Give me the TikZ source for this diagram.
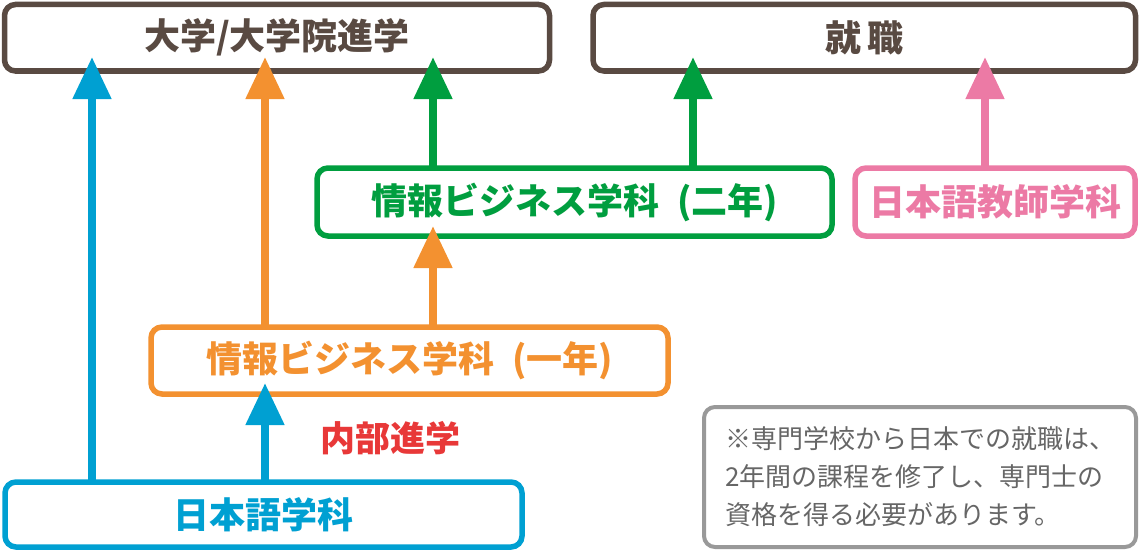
\documentclass[tikz,border=0pt]{standalone}
\usepackage{fontspec}
\setmainfont{Noto Sans CJK JP}
\usetikzlibrary{arrows.meta}
\definecolor{cbrown}{HTML}{594A42}
\definecolor{cblue}{HTML}{00A0D2}
\definecolor{corange}{HTML}{F39130}
\definecolor{cgreen}{HTML}{009E3F}
\definecolor{cpink}{HTML}{EC7AA5}
\definecolor{cred}{HTML}{E83838}
\definecolor{cgray}{HTML}{999999}
\definecolor{cnote}{HTML}{666666}
\tikzset{
  box/.style={draw=#1, text=#1, line width=5.5pt, rounded corners=11pt, fill=white,
    outer sep=0pt, inner sep=0pt, font=\fontsize{36}{40}\selectfont\bfseries},
  uparrow/.style={draw=#1, line width=8pt, -{Triangle[width=37pt,length=42pt]}, #1}
}
\begin{document}
\begin{tikzpicture}[x=1pt,y=-1pt]
\useasboundingbox (0,0) rectangle (1140,551);
\node[box=cbrown, minimum width=545pt, minimum height=66.5pt] (uni) at (277,37.75) {大学/大学院進学};
\node[box=cbrown, minimum width=542.5pt, minimum height=66.5pt] (job) at (864.25,37.75) {就\,職};
\node[box=cgreen, minimum width=515pt, minimum height=68pt] (ib2) at (574.5,202) {情報ビジネス学科\enspace(二年)};
\node[box=cpink, minimum width=280pt, minimum height=68pt] (jtt) at (995,202) {日本語教師学科};
\node[box=corange, minimum width=517pt, minimum height=67pt] (ib1) at (409.5,360.5) {情報ビジネス学科\enspace(一年)};
\node[box=cblue, minimum width=517pt, minimum height=65pt] (jpn) at (263.5,514.5) {日本語学科};
\node[draw=cgray, line width=4pt, rounded corners=11pt, outer sep=0pt, minimum width=432pt, minimum height=140pt,
  text=cnote, align=left, font=\fontsize{26}{38}\selectfont] (note) at (920,477)
  {※専門学校から日本での就職は、\\2年間の課程を修了し、専門士の\\資格を得る必要があります。};
\node[text=cred, font=\fontsize{35}{40}\selectfont\bfseries] (internal) at (390,438) {内部進学};
% arrows
\draw[uparrow=cblue, shorten >=-14pt] (jpn.north -| 92,0) -- (uni.south -| 92,0);
\draw[uparrow=corange, shorten >=-14pt] (ib1.north -| 265,0) -- (uni.south -| 265,0);
\draw[uparrow=cgreen, shorten >=-14pt] (ib2.north -| 433,0) -- (uni.south -| 433,0);
\draw[uparrow=cgreen, shorten >=-14pt] (ib2.north -| 693,0) -- (job.south -| 693,0);
\draw[uparrow=cpink, shorten >=-14pt] (jtt.north -| 985,0) -- (job.south -| 985,0);
\draw[uparrow=corange, shorten >=-10pt] (ib1.north -| 433,0) -- (ib2.south -| 433,0);
\draw[uparrow=cblue, shorten >=-11pt] (jpn.north -| 265,0) -- (ib1.south -| 265,0);
\end{tikzpicture}
\end{document}
